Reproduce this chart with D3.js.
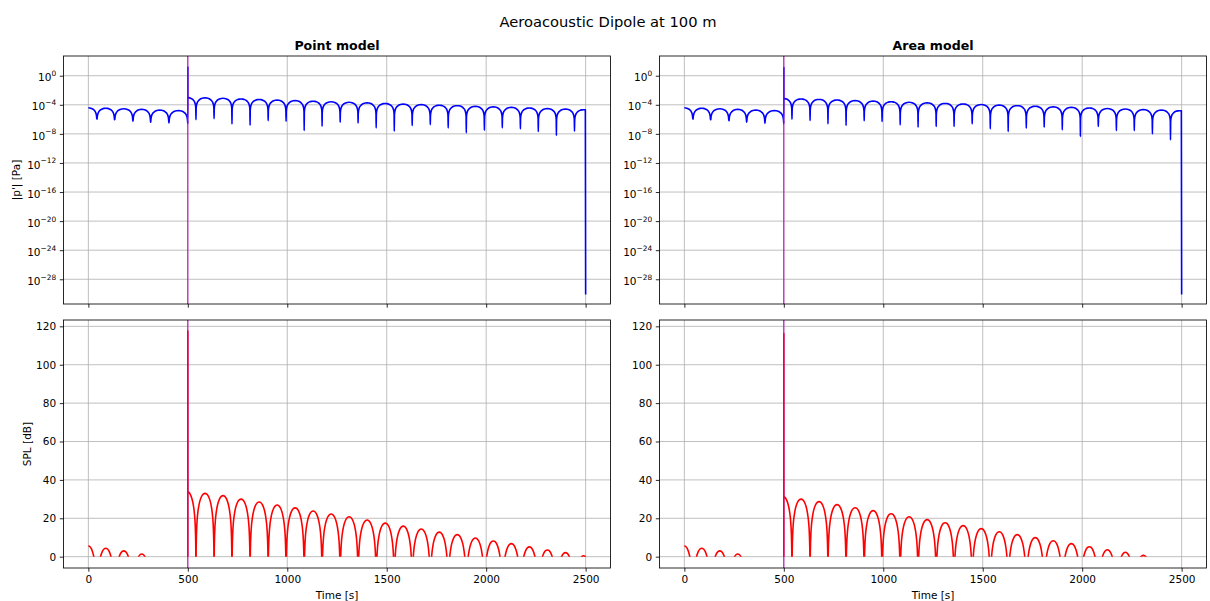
<!DOCTYPE html>
<html><head><meta charset="utf-8">
<script src="https://cdn.jsdelivr.net/npm/d3@7"></script>
<style>
body{margin:0;background:#fff}
svg{display:block}
text{font-family:"DejaVu Sans",sans-serif;fill:#000}
</style>
</head><body>
<svg id="chart" width="1210" height="601"></svg>
<script>
// ---------------- DATA ----------------
const figureTitle = "Aeroacoustic Dipole at 100 m";
const modelNames = ["Point model", "Area model"];
const xTicks = [0, 500, 1000, 1500, 2000, 2500];
const pTickExponents = [0, -4, -8, -12, -16, -20, -24, -28];
const splTicks = [0, 20, 40, 60, 80, 100, 120];
const P_REF = 2e-5; // reference pressure for SPL [Pa]

// arch boundaries (notch times, s); first/last are the (virtual) outer notches
const preArchBounds = [-47, 43, 132, 224, 313, 405, 500];
const postArchBounds = [450, 541, 632, 722, 813, 904, 994, 1085, 1175, 1266, 1356, 1447,
  1538, 1628, 1719, 1809, 1900, 1991, 2081, 2172, 2262, 2353, 2444, 2535];

// measured shape of one lobe: fraction of the lobe width and level below its peak [dB]
const archProfileFrac = [0.01, 0.02, 0.04, 0.07, 0.1, 0.15, 0.2, 0.3, 0.4, 0.5];
const archProfileDb = [-30, -24, -18, -13.2, -10.2, -6.9, -4.6, -1.8, -0.4, 0];

// Point model
const pointStartDb = 5.7;
const pointPrePeaksDb = [5.7, 4.4, 3.0, 1.4, -0.6, -2.0];
const pointPreNotchLogPa = [-5.82, -6.05, -6.27, -6.41, -6.5];
const pointPreEndLogPa = -6.6;
const pointSpikeDb = 117.6;
const pointPostStartDb = 33.9;
const pointPostPeaksDb = [34.0, 33.0, 31.8, 30.0, 28.5, 26.9, 25.4, 23.8, 22.2, 20.8, 19.1,
  17.5, 15.9, 14.4, 12.8, 11.5, 9.7, 8.2, 6.8, 5.1, 3.5, 2.1, 0.4];
const pointPostNotchLogPa = [-6.05, -5.9, -6.64, -6.82, -6.18, -6.27, -7.55, -6.95, -6.4, -6.5,
  -7.18, -7.64, -6.86, -6.73, -7.18, -7.86, -7.5, -7.18, -7.32, -7.68, -8.23, -7.64];
const pointEndLogPa = -30.1;

// Area model
const areaStartDb = 5.7;
const areaPrePeaksDb = [5.7, 4.4, 3.0, 1.4, -0.6, -2.0];
const areaPreNotchLogPa = [-5.83, -6.06, -6.2, -6.39, -6.53];
const areaPreEndLogPa = -6.62;
const areaSpikeDb = 116.2;
const areaPostStartDb = 31.3;
const areaPostPeaksDb = [31.4, 30.0, 28.7, 27.1, 25.5, 24.0, 22.4, 20.8, 19.3, 17.7, 16.2,
  14.6, 13.0, 11.5, 9.9, 8.3, 6.8, 5.2, 3.6, 2.3, 0.7, -0.8, -2.3];
const areaPostNotchLogPa = [-5.97, -6.16, -6.62, -6.85, -6.2, -6.3, -6.76, -7.08, -6.99, -6.99,
  -6.62, -7.31, -7.69, -7.22, -7.08, -7.45, -8.38, -6.99, -7.55, -7.55, -8.0, -8.84];
const areaEndLogPa = -30.1;

const sourceTime = 500;

// ---------------- BUILD ----------------
const dbFromLogPa = L => 20 * (L - Math.log10(P_REF));
const paFromDb = db => P_REF * Math.pow(10, db / 20);

function lobePoints(bounds, peaks, notchLogs, lo, hi) {
  const out = [];
  for (let i = 0; i < peaks.length; i++) {
    const a = bounds[i], b = bounds[i + 1], P = peaks[i], w = b - a;
    archProfileFrac.forEach((f, k) => out.push({t: a + f * w, db: P + archProfileDb[k]}));
    for (let k = archProfileFrac.length - 2; k >= 0; k--)
      out.push({t: b - archProfileFrac[k] * w, db: P + archProfileDb[k]});
  }
  notchLogs.forEach((L, k) => out.push({t: bounds[k + 1], db: dbFromLogPa(L)}));
  return out.filter(d => d.t > lo && d.t < hi);
}

function buildSeries(m) {
  let pts = [];
  pts.push({t: 0, db: m.startDb});
  pts = pts.concat(lobePoints(preArchBounds, m.prePeaks, m.preNotch, 0, sourceTime - 0.2));
  pts.push({t: sourceTime - 0.2, db: dbFromLogPa(m.preEnd)});
  pts.push({t: sourceTime, db: m.spike});
  pts.push({t: sourceTime + 0.2, db: m.postStart});
  pts = pts.concat(lobePoints(postArchBounds, m.postPeaks, m.postNotch, sourceTime + 0.2, 2500));
  pts.push({t: 2500, db: dbFromLogPa(m.endLog)});
  pts.sort((a, b) => a.t - b.t);
  return pts;
}

const models = [
  {name: modelNames[0], x0: 63.5, x1: 610.5, startDb: pointStartDb, prePeaks: pointPrePeaksDb,
   preNotch: pointPreNotchLogPa, preEnd: pointPreEndLogPa, spike: pointSpikeDb,
   postStart: pointPostStartDb, postPeaks: pointPostPeaksDb, postNotch: pointPostNotchLogPa,
   endLog: pointEndLogPa, ylabels: true},
  {name: modelNames[1], x0: 659.5, x1: 1206.5, startDb: areaStartDb, prePeaks: areaPrePeaksDb,
   preNotch: areaPreNotchLogPa, preEnd: areaPreEndLogPa, spike: areaSpikeDb,
   postStart: areaPostStartDb, postPeaks: areaPostPeaksDb, postNotch: areaPostNotchLogPa,
   endLog: areaEndLogPa, ylabels: false}
];

const svg = d3.select("#chart");
const defs = svg.append("defs");
const TOP = [56, 304], BOT = [320, 568];
const GRID = "#b0b0b0";
const FS = 10.5;

svg.append("text").attr("x", 608).attr("y", 26.5).attr("text-anchor", "middle")
  .style("font-size", "14.7px").text(figureTitle);

models.forEach((m, mi) => {
  const x = d3.scaleLinear().domain([-125, 2625]).range([m.x0, m.x1]);
  const yTop = d3.scaleLog().domain([Math.pow(10, -31.4), Math.pow(10, 2.71)]).range([TOP[1], TOP[0]]);
  const yBot = d3.scaleLinear().domain([-5.9, 123.3]).range([BOT[1], BOT[0]]);
  const series = buildSeries(m);
  const cx = (m.x0 + m.x1) / 2;

  // title
  svg.append("text").attr("x", cx).attr("y", 49.7).attr("text-anchor", "middle")
    .style("font-size", "12.6px").style("font-weight", "bold").text(m.name);

  // clip paths
  defs.append("clipPath").attr("id", "ct" + mi).append("rect")
    .attr("x", m.x0).attr("y", TOP[0]).attr("width", m.x1 - m.x0).attr("height", TOP[1] - TOP[0]);
  defs.append("clipPath").attr("id", "cb" + mi).append("rect")
    .attr("x", m.x0).attr("y", BOT[0]).attr("width", m.x1 - m.x0).attr("height", yBot(0) - BOT[0]);

  // ---- grids
  const gT = svg.append("g");
  xTicks.forEach(v => gT.append("line").attr("x1", x(v)).attr("x2", x(v)).attr("y1", TOP[0]).attr("y2", TOP[1])
    .attr("stroke", GRID).attr("stroke-width", 0.8));
  pTickExponents.forEach(e => gT.append("line").attr("x1", m.x0).attr("x2", m.x1)
    .attr("y1", yTop(Math.pow(10, e))).attr("y2", yTop(Math.pow(10, e))).attr("stroke", GRID).attr("stroke-width", 0.8));
  xTicks.forEach(v => gT.append("line").attr("x1", x(v)).attr("x2", x(v)).attr("y1", BOT[0]).attr("y2", BOT[1])
    .attr("stroke", GRID).attr("stroke-width", 0.8));
  splTicks.forEach(v => gT.append("line").attr("x1", m.x0).attr("x2", m.x1)
    .attr("y1", yBot(v)).attr("y2", yBot(v)).attr("stroke", GRID).attr("stroke-width", 0.8));

  // ---- data lines
  const lineTop = d3.line().x(d => x(d.t)).y(d => yTop(paFromDb(d.db))).curve(d3.curveMonotoneX);
  const lineBot = d3.line().x(d => x(d.t)).y(d => yBot(d.db)).curve(d3.curveMonotoneX);
  svg.append("path").datum(series).attr("d", lineTop).attr("fill", "none").attr("stroke", "#0000ff")
    .attr("stroke-width", 1.6).attr("stroke-linejoin", "round").attr("clip-path", `url(#ct${mi})`);
  svg.append("path").datum(series).attr("d", lineBot).attr("fill", "none").attr("stroke", "#ff0000")
    .attr("stroke-width", 1.6).attr("stroke-linejoin", "round").attr("clip-path", `url(#cb${mi})`);

  // ---- source marker
  [TOP, BOT].forEach(Y => svg.append("line").attr("x1", x(sourceTime)).attr("x2", x(sourceTime))
    .attr("y1", Y[0]).attr("y2", Y[1]).attr("stroke", "#bf00bf").attr("stroke-width", 1.05));

  // ---- axes
  const styleAxis = g => {
    g.select(".domain").remove();
    g.selectAll(".tick line").attr("stroke", "#000").attr("stroke-width", 0.84);
    g.selectAll(".tick text").style("font-size", FS + "px").attr("fill", "#000");
  };
  svg.append("g").attr("transform", `translate(0,${TOP[1]})`)
    .call(d3.axisBottom(x).tickValues(xTicks).tickSize(3.7).tickFormat(() => "")).call(styleAxis);
  svg.append("g").attr("transform", `translate(0,${BOT[1]})`)
    .call(d3.axisBottom(x).tickValues(xTicks).tickSize(3.7).tickPadding(3.7).tickFormat(d3.format("d"))).call(styleAxis);
  svg.append("g").attr("transform", `translate(${m.x0},0)`)
    .call(d3.axisLeft(yBot).tickValues(splTicks).tickSize(3.7).tickPadding(3.7).tickFormat(d3.format("d"))).call(styleAxis);
  const ay = svg.append("g").attr("transform", `translate(${m.x0},0)`)
    .call(d3.axisLeft(yTop).tickValues(pTickExponents.map(e => Math.pow(10, e))).tickSize(3.7).tickPadding(3.7))
    .call(styleAxis);
  ay.selectAll(".tick text").each(function(d) {
    const e = Math.round(Math.log10(d));
    const t = d3.select(this).text(null).attr("dy", null).attr("y", 5.2);
    t.append("tspan").text("10");
    t.append("tspan").attr("dy", -5.2).style("font-size", "7.4px").text(e < 0 ? "\u2212" + (-e) : String(e));
  });

  // ---- spines
  [TOP, BOT].forEach(Y => svg.append("rect").attr("x", m.x0).attr("y", Y[0])
    .attr("width", m.x1 - m.x0).attr("height", Y[1] - Y[0]).attr("fill", "none")
    .attr("stroke", "#000").attr("stroke-width", 0.84));

  // ---- labels
  svg.append("text").attr("x", cx).attr("y", 598.5).attr("text-anchor", "middle")
    .style("font-size", FS + "px").text("Time [s]");
  if (m.ylabels) {
    svg.append("text").attr("transform", `translate(16,${(TOP[0] + TOP[1]) / 2}) rotate(-90)`)
      .attr("dy", "0.35em").attr("text-anchor", "middle").style("font-size", FS + "px").text("|p'| [Pa]");
    svg.append("text").attr("transform", `translate(27,${(BOT[0] + BOT[1]) / 2}) rotate(-90)`)
      .attr("dy", "0.35em").attr("text-anchor", "middle").style("font-size", FS + "px").text("SPL [dB]");
  }
});
</script>
</body></html>
